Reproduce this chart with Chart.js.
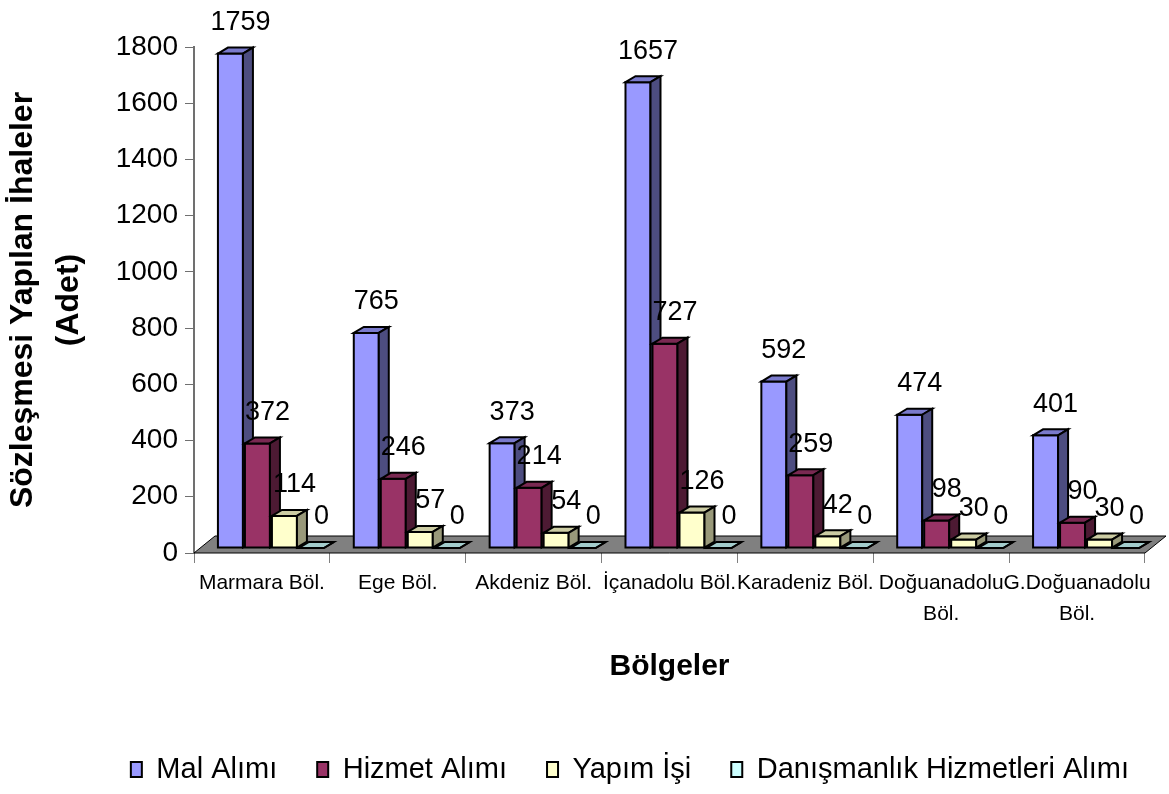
<!DOCTYPE html>
<html>
<head>
<meta charset="utf-8">
<title>Sözleşmesi Yapılan İhaleler</title>
<script src="https://cdn.jsdelivr.net/npm/chart.js@4.4.1/dist/chart.umd.min.js"></script>
<style>
  html, body { margin: 0; padding: 0; background: #ffffff; }
</style>
</head>
<body>
<canvas id="ihaleChart" width="1169" height="794"></canvas>
<script>
// bölge isimleri (iki satırlık olanlar dizi olarak)
var bolgeler = [
    ['Marmara Böl.'],
    ['Ege Böl.'],
    ['Akdeniz Böl.'],
    ['İçanadolu Böl.'],
    ['Karadeniz Böl.'],
    ['Doğuanadolu', 'Böl.'],
    ['G.Doğuanadolu', 'Böl.']
];
var malAlimi     = [1759, 765, 373, 1657, 592, 474, 401];
var hizmetAlimi  = [372, 246, 214, 727, 259, 98, 90];
var yapimIsi     = [114, 57, 54, 126, 42, 30, 30];
var danismanlik  = [0, 0, 0, 0, 0, 0, 0];
var seriAdlari   = ['Mal Alımı', 'Hizmet Alımı', 'Yapım İşi', 'Danışmanlık Hizmetleri Alımı'];
var yMin = 0, yMax = 1800, yAdim = 200;

var FONT = "'Liberation Sans', Arial, sans-serif";

// on yuz / ust yuz / yan yuz renkleri
var renkler = [
    { on: '#9999ff', ust: '#7a7acc', yan: '#4d4d80' },
    { on: '#993366', ust: '#7a2952', yan: '#4d1a33' },
    { on: '#ffffcc', ust: '#cccca3', yan: '#99997a' },
    { on: '#ccffff', ust: '#a3cccc', yan: '#7a9999' }
];

// 3D kaydirmalar
var SX = 9, SY = -5;        // cubuklarin zemin ortasina kaymasi
var DX = 10, DY = -6;       // cubuk derinligi
var ZX = 21, ZY = -17;      // zemin derinligi

function poly(ctx, pts, fill) {
    ctx.beginPath();
    ctx.moveTo(pts[0][0], pts[0][1]);
    for (var k = 1; k < pts.length; k++) {
        ctx.lineTo(pts[k][0], pts[k][1]);
    }
    ctx.closePath();
    ctx.fillStyle = fill;
    ctx.fill();
    ctx.stroke();
}

var kutu3d = {
    id: 'kutu3d',
    beforeDatasetsDraw: function (chart) {
        var ctx = chart.ctx;
        var area = chart.chartArea;
        var y0 = chart.scales.y.getPixelForValue(0);

        ctx.save();
        // ZEMIN
        ctx.lineWidth = 1;
        ctx.strokeStyle = '#000000';
        poly(ctx, [[area.left, y0], [area.right, y0], [area.right + ZX, y0 + ZY], [area.left + ZX, y0 + ZY]], '#808080');

        // CUBUKLAR - her bolgede seri sirasiyla
        ctx.lineWidth = 2;
        ctx.lineJoin = 'miter';
        for (var j = 0; j < chart.data.labels.length; j++) {
            for (var i = 0; i < chart.data.datasets.length; i++) {
                var bar = chart.getDatasetMeta(i).data[j];
                var r = renkler[i];
                var x1 = bar.x - bar.width / 2 + SX;
                var x2 = bar.x + bar.width / 2 + SX;
                var ust = bar.y + SY;
                var alt = bar.base + SY;
                poly(ctx, [[x1, ust], [x2, ust], [x2, alt], [x1, alt]], r.on);
                poly(ctx, [[x1, ust], [x1 + DX, ust + DY], [x2 + DX, ust + DY], [x2, ust]], r.ust);
                poly(ctx, [[x2, ust], [x2 + DX, ust + DY], [x2 + DX, alt + DY], [x2, alt]], r.yan);
            }
        }

        // DEGER ETIKETLERI
        ctx.font = '27px ' + FONT;
        ctx.fillStyle = '#000000';
        ctx.textAlign = 'center';
        ctx.textBaseline = 'middle';
        chart.data.datasets.forEach(function (ds, i) {
            chart.getDatasetMeta(i).data.forEach(function (bar, j) {
                ctx.fillText(String(ds.data[j]), bar.x + 19, bar.y - 36);
            });
        });
        ctx.restore();
        return false;
    }
};

function seri(ad, veri, i) {
    return {
        label: ad,
        data: veri,
        backgroundColor: renkler[i].on,
        borderColor: '#000000',
        borderWidth: 2,
        categoryPercentage: 0.795,
        barPercentage: 0.926
    };
}

var ctx = document.getElementById('ihaleChart').getContext('2d');
var ihaleChart = new Chart(ctx, {
    type: 'bar',
    data: {
        labels: bolgeler,
        datasets: [
            seri(seriAdlari[0], malAlimi, 0),
            seri(seriAdlari[1], hizmetAlimi, 1),
            seri(seriAdlari[2], yapimIsi, 2),
            seri(seriAdlari[3], danismanlik, 3)
        ]
    },
    plugins: [kutu3d],
    options: {
        responsive: false,
        devicePixelRatio: 1,
        animation: false,
        layout: { padding: { top: 47, left: 0, right: 0, bottom: 0 } },
        plugins: {
            tooltip: { enabled: false },
            legend: {
                position: 'bottom',
                align: 'end',
                labels: {
                    boxWidth: 11,
                    boxHeight: 15,
                    padding: 40,
                    color: '#000000',
                    font: { size: 29, family: FONT }
                }
            }
        },
        scales: {
            x: {
                grid: { drawOnChartArea: false, tickLength: 10, color: '#808080' },
                border: { display: false },
                ticks: {
                    autoSkip: false,
                    maxRotation: 0,
                    minRotation: 0,
                    padding: 4,
                    color: '#000000',
                    font: { size: 21, family: FONT, lineHeight: 1.5 }
                },
                title: {
                    display: true,
                    text: 'Bölgeler',
                    color: '#000000',
                    padding: { top: 0, bottom: 30 },
                    font: { size: 30, weight: 'bold', family: FONT, lineHeight: 1.2 }
                },
                afterFit: function (s) { s.height = 162; }
            },
            y: {
                min: yMin,
                max: yMax,
                grid: { drawOnChartArea: false, tickLength: 9, color: '#707070' },
                border: { color: '#707070', width: 2 },
                ticks: {
                    stepSize: yAdim,
                    padding: 7,
                    color: '#000000',
                    font: { size: 28, family: FONT },
                    callback: function (value) { return String(value); }
                },
                title: {
                    display: true,
                    text: ['Sözleşmesi Yapılan İhaleler', '(Adet)'],
                    color: '#000000',
                    padding: { top: 0, bottom: 0 },
                    font: { size: 32, weight: 'bold', family: FONT, lineHeight: 1.45 }
                },
                afterFit: function (s) { s.width = 194; }
            },
            // sag tarafta bosluk birakan gorunmez eksen
            yBosluk: {
                position: 'right',
                display: true,
                grid: { display: false },
                border: { display: false },
                ticks: { display: false },
                afterFit: function (s) { s.width = 24; }
            }
        }
    }
});
</script>
</body>
</html>
